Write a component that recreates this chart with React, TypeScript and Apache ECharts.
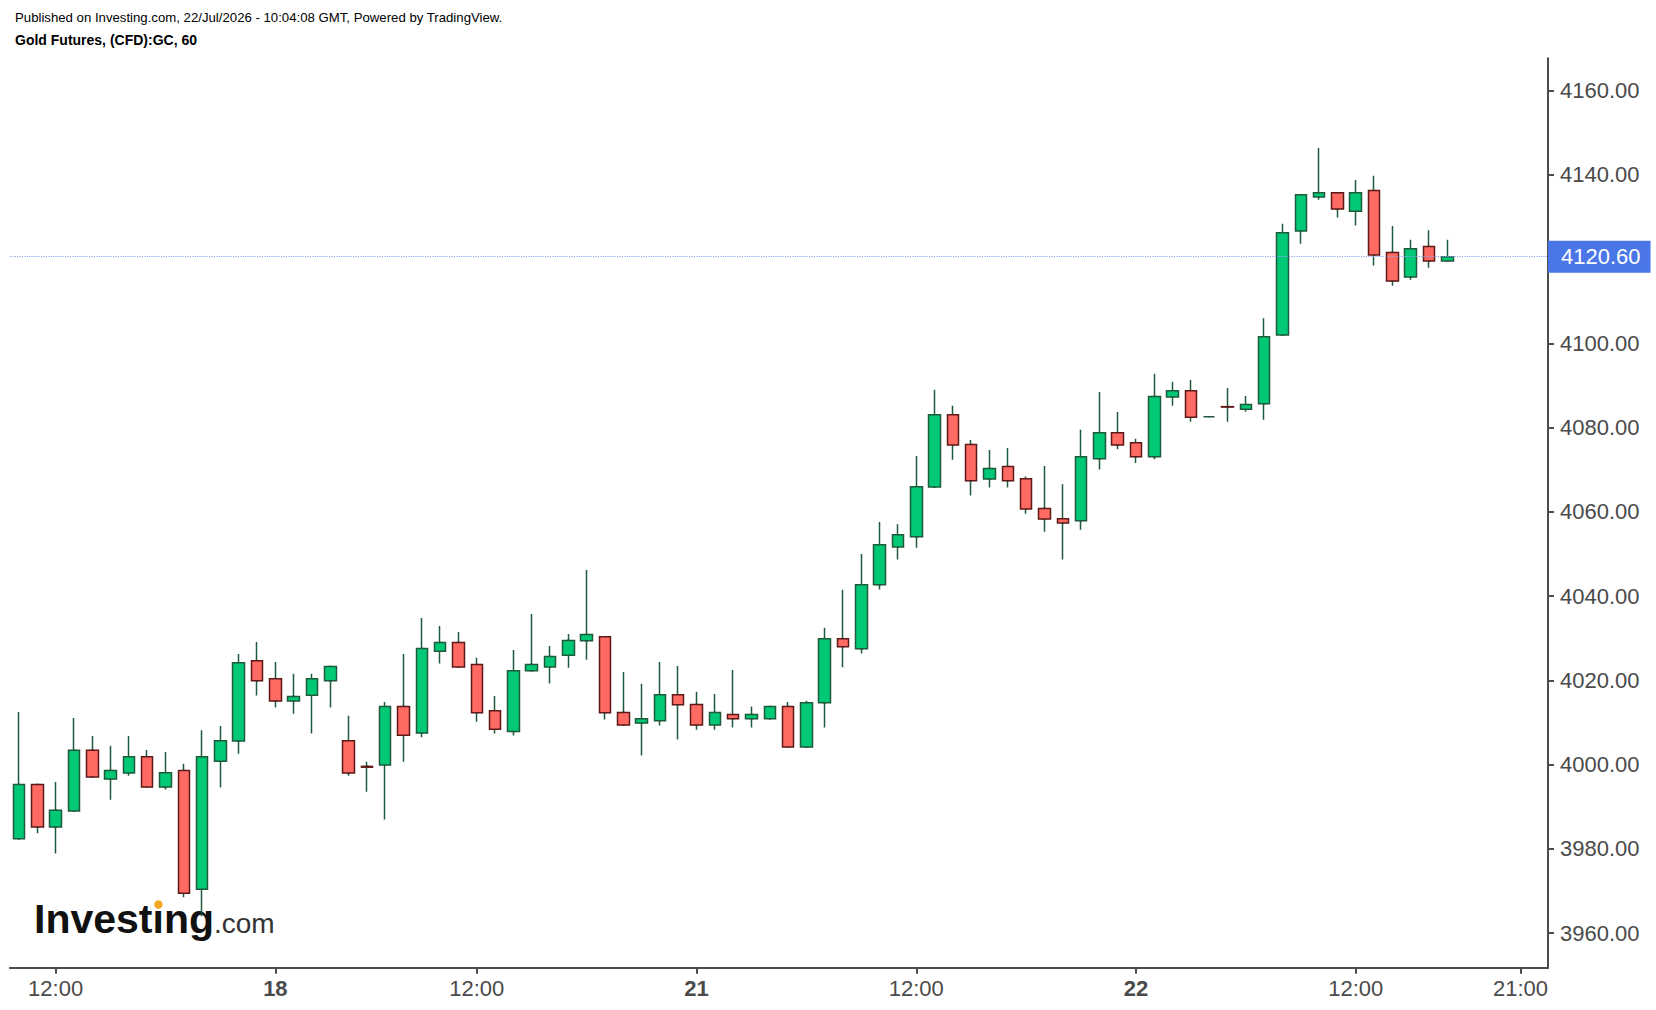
import React, { useEffect, useRef } from "react";
import * as echarts from "echarts";

// ---- data (hourly candles) ----
const opens = [
  3982.4, 3995.3, 3985.2, 3989.0, 4003.4, 3996.6, 3998.0, 4001.9, 3994.7, 3998.6,
  3970.4, 4000.8, 4005.6, 4024.7, 4020.4, 4015.1, 4016.5, 4019.9, 4005.7, 3999.6,
  3999.9, 4013.8, 4007.5, 4026.9, 4029.0, 4023.8, 4012.8, 4007.9, 4022.3, 4023.2,
  4026.0, 4029.4, 4030.4, 4012.4, 4009.9, 4010.4, 4016.6, 4014.3, 4009.4, 4011.9,
  4010.9, 4010.9, 4013.8, 4004.2, 4014.7, 4029.9, 4027.5, 4042.7, 4051.7, 4054.1,
  4065.9, 4083.1, 4076.0, 4067.8, 4070.8, 4067.9, 4060.8, 4058.4, 4057.9, 4072.6,
  4078.8, 4076.4, 4073.1, 4087.3, 4088.8, 4082.6, 4085.0, 4084.4, 4085.7, 4102.0,
  4126.7, 4134.8, 4135.8, 4131.4, 4136.3, 4121.6, 4115.8, 4123.0, 4119.6,
];
const closes = [
  3995.3, 3985.2, 3989.2, 4003.4, 3997.1, 3998.6, 4001.9, 3994.7, 3998.1, 3969.5,
  4001.9, 4005.7, 4024.2, 4019.9, 4015.1, 4016.2, 4020.4, 4023.3, 3998.0, 3999.4,
  4013.8, 4007.0, 4027.6, 4029.0, 4023.2, 4012.3, 4008.4, 4022.3, 4023.8, 4025.7,
  4029.5, 4030.9, 4012.3, 4009.4, 4010.9, 4016.6, 4014.2, 4009.4, 4012.4, 4010.9,
  4011.9, 4013.8, 4004.2, 4014.7, 4029.9, 4028.0, 4042.7, 4052.2, 4054.6, 4066.0,
  4083.1, 4075.9, 4067.4, 4070.3, 4067.4, 4060.7, 4058.3, 4057.4, 4073.1, 4078.8,
  4075.9, 4073.1, 4087.4, 4088.8, 4082.5, 4082.6, 4084.9, 4085.5, 4101.6, 4126.3,
  4135.3, 4135.8, 4131.9, 4135.8, 4121.0, 4114.8, 4122.5, 4119.6, 4120.6,
];
const lows = [
  3982.2, 3983.7, 3978.9, 3989.0, 3997.0, 3991.7, 3997.4, 3994.6, 3994.1, 3968.5,
  3964.0, 3994.6, 4002.6, 4016.4, 4013.6, 4012.1, 4007.4, 4013.6, 3997.4, 3993.6,
  3987.0, 4000.7, 4006.5, 4024.0, 4023.2, 4010.2, 4007.4, 4006.9, 4022.2, 4019.3,
  4023.0, 4024.9, 4010.7, 4009.4, 4002.2, 4009.3, 4006.0, 4008.3, 4008.3, 4008.8,
  4008.8, 4010.9, 4004.2, 4004.2, 4008.8, 4023.1, 4026.4, 4041.6, 4048.7, 4051.5,
  4065.9, 4072.4, 4063.9, 4065.8, 4065.8, 4059.6, 4055.3, 4048.7, 4055.8, 4070.1,
  4074.9, 4071.6, 4072.5, 4085.2, 4081.4, 4082.6, 4081.4, 4083.8, 4081.9, 4102.0,
  4123.7, 4134.1, 4129.9, 4128.0, 4118.5, 4113.7, 4115.1, 4118.0, 4119.6,
];
const highs = [
  4012.5, 3995.5, 3995.9, 4011.1, 4006.8, 4004.5, 4006.8, 4003.5, 4003.0, 4000.2,
  4008.2, 4009.2, 4026.3, 4029.1, 4024.4, 4021.6, 4021.6, 4023.3, 4011.6, 4000.7,
  4014.9, 4026.3, 4034.8, 4032.9, 4031.5, 4025.4, 4016.3, 4027.2, 4035.8, 4028.2,
  4031.0, 4046.2, 4030.4, 4022.0, 4019.2, 4024.4, 4023.4, 4017.3, 4016.8, 4022.5,
  4013.8, 4013.8, 4014.9, 4015.2, 4032.5, 4041.5, 4050.0, 4057.6, 4057.1, 4073.3,
  4089.0, 4085.2, 4077.1, 4074.7, 4075.2, 4068.4, 4070.9, 4066.6, 4079.5, 4088.5,
  4083.7, 4077.4, 4092.8, 4090.9, 4091.3, 4082.6, 4089.4, 4087.5, 4106.0, 4128.4,
  4135.4, 4146.4, 4135.8, 4138.8, 4139.8, 4127.9, 4124.6, 4126.9, 4124.6,
];

// hourly slots shown on the time axis (the axis runs a few hours past the last candle)
const slotCount = 84;
const xTickSlots = [2, 14, 25, 37, 49, 61, 73, 82];
const xTickLabels = ["12:00", "18", "12:00", "21", "12:00", "22", "12:00", "21:00"];
const xTickIsDay = [false, true, false, true, false, true, false, false];

const yTickValues = [3960, 3980, 4000, 4020, 4040, 4060, 4080, 4100, 4120, 4140, 4160];
const yMin = 3951.8;
const yMax = 4167.7;

const headerLine1 = "Published on Investing.com, 22/Jul/2026 - 10:04:08 GMT, Powered by TradingView.";
const headerLine2 = "Gold Futures, (CFD):GC, 60";

const FONT = '"Liberation Sans", Arial, Helvetica, sans-serif';
const AXIS_COLOR = "#4d4d4d";
const LABEL_COLOR = "#4a4a4a";
const WICK = "#1f5a3c";
const UP_FILL = "#00c874";
const UP_BORDER = "#1f5a3c";
const DOWN_FILL = "#ff6b62";
const DOWN_BORDER = "#5e1818";

export default function App() {
  const ref = useRef<HTMLDivElement>(null);

  useEffect(() => {
    document.body.style.margin = "0";
    if (!ref.current) return;
    const chart = echarts.init(ref.current, null, { renderer: "svg" });

    const categories = Array.from({ length: slotCount }, (_, i) => String(i));
    const ohlc = opens.map((o, i) => [o, closes[i], lows[i], highs[i]]);
    const bodies = opens.map((o, i) => [o, closes[i], Math.min(o, closes[i]), Math.max(o, closes[i])]);
    const lastClose = closes[closes.length - 1];
    const tickLookup = new Map<number, number>();
    xTickSlots.forEach((s, k) => tickLookup.set(s, k));
    const showTick = (idx: number) => tickLookup.has(idx);

    const option: any = {
      animation: false,
      backgroundColor: "#ffffff",
      grid: { left: 9.85, right: 108, top: 58.3, bottom: 42.3, containLabel: false },
      xAxis: {
        type: "category",
        data: categories,
        boundaryGap: true,
        axisLine: { show: true, lineStyle: { color: AXIS_COLOR, width: 2 } },
        axisTick: {
          show: true,
          interval: (idx: number) => showTick(idx),
          alignWithLabel: true,
          length: 6,
          lineStyle: { color: AXIS_COLOR, width: 2 },
        },
        axisLabel: {
          interval: (idx: number) => showTick(idx),
          margin: 10,
          fontSize: 22,
          fontFamily: FONT,
          color: LABEL_COLOR,
          formatter: (_v: string, idx: number) => {
            const k = tickLookup.get(idx);
            if (k === undefined) return "";
            return xTickIsDay[k] ? `{b|${xTickLabels[k]}}` : xTickLabels[k];
          },
          rich: {
            b: { fontSize: 22, fontFamily: FONT, fontWeight: "bold", color: LABEL_COLOR },
          },
        },
        splitLine: { show: false },
      },
      yAxis: {
        type: "value",
        position: "right",
        min: yMin,
        max: yMax,
        axisLine: { show: true, lineStyle: { color: AXIS_COLOR, width: 2 } },
        axisTick: {
          show: true,
          length: 6,
          customValues: yTickValues,
          lineStyle: { color: AXIS_COLOR, width: 2 },
        },
        axisLabel: {
          customValues: yTickValues,
          margin: 12,
          fontSize: 22,
          fontFamily: FONT,
          color: LABEL_COLOR,
          formatter: (v: number) => Number(v).toFixed(2),
        },
        splitLine: { show: false },
      },
      graphic: [
        {
          type: "text",
          x: 15,
          y: 17,
          style: { text: headerLine1, fontSize: 13.2, fontFamily: FONT, fill: "#000", verticalAlign: "middle", align: "left" },
        },
        {
          type: "text",
          x: 15,
          y: 40,
          style: { text: headerLine2, fontSize: 14, fontWeight: "bold", fontFamily: FONT, fill: "#000", verticalAlign: "middle", align: "left" },
        },
        {
          type: "text",
          x: 34,
          y: 919,
          z: -1,
          style: { text: "Investing", fontSize: 41, fontWeight: "bold", fontFamily: FONT, fill: "#111", verticalAlign: "middle", align: "left" },
        },
        {
          type: "text",
          x: 214,
          y: 923.3,
          z: -1,
          style: { text: ".com", fontSize: 28, fontFamily: FONT, fill: "#333", verticalAlign: "middle", align: "left" },
        },
        {
          type: "circle",
          z: -1,
          shape: { cx: 158.4, cy: 904.5, r: 4.2 },
          style: { fill: "#f5a623" },
        },
      ],
      series: [
        {
          type: "candlestick",
          name: "wicks",
          data: ohlc,
          barWidth: 2,
          silent: true,
          itemStyle: {
            color: WICK,
            color0: WICK,
            borderColor: WICK,
            borderColor0: WICK,
            borderColorDoji: WICK,
            borderWidth: 1.5,
          },
          emphasis: { disabled: true },
        },
        {
          type: "candlestick",
          name: "GC",
          data: bodies,
          barWidth: 12,
          silent: true,
          itemStyle: {
            color: UP_FILL,
            color0: DOWN_FILL,
            borderColor: UP_BORDER,
            borderColor0: DOWN_BORDER,
            borderColorDoji: UP_BORDER,
            borderWidth: 1.5,
          },
          emphasis: { disabled: true },
          markLine: {
            silent: true,
            symbol: ["none", "none"],
            animation: false,
            lineStyle: { color: "#8ea6ec", type: "dotted", width: 1.2 },
            label: {
              show: true,
              position: "end",
              distance: 0,
              formatter: (p: any) => Number(p.value).toFixed(2),
              backgroundColor: "#4a76e8",
              color: "#ffffff",
              fontSize: 22,
              fontFamily: FONT,
              lineHeight: 26,
              padding: [3, 10, 3, 13],
            },
            emphasis: { disabled: true },
            data: [{ yAxis: lastClose }],
          },
        },
      ],
    };

    chart.setOption(option);
    return () => chart.dispose();
  }, []);

  return (
    <div
      ref={ref}
      style={{ position: "absolute", left: 0, top: 0, width: 1656, height: 1010 }}
    />
  );
}
